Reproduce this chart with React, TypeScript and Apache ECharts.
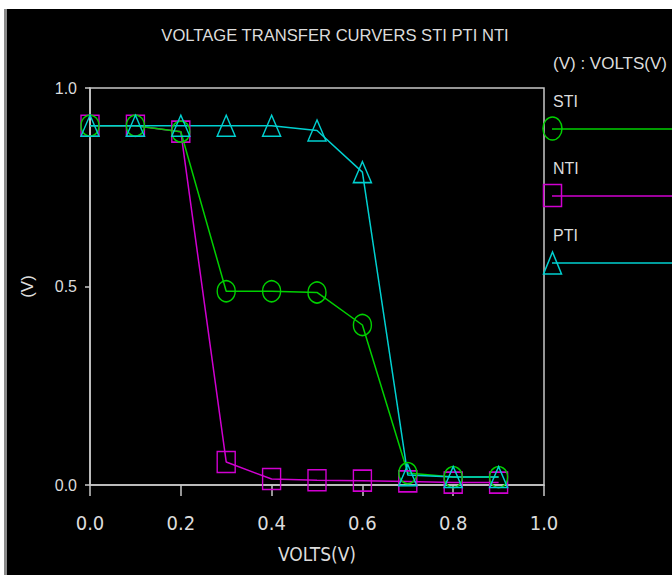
import React, { useEffect, useRef } from "react";
import * as echarts from "echarts";

const xValues = [0, 0.1, 0.2, 0.3, 0.4, 0.5, 0.6, 0.7, 0.8, 0.9];
const stiValues = [0.905, 0.905, 0.89, 0.488, 0.488, 0.485, 0.403, 0.03, 0.02, 0.02];
const ntiValues = [0.905, 0.905, 0.89, 0.058, 0.015, 0.012, 0.011, 0.009, 0.006, 0.006];
const ptiValues = [0.905, 0.905, 0.905, 0.905, 0.905, 0.893, 0.788, 0.025, 0.02, 0.02];
const xTicks = [0, 0.2, 0.4, 0.6, 0.8, 1.0];
const yTicks = [0, 0.5, 1.0];

const GREEN = "#00d000";
const MAGENTA = "#d000d0";
const CYAN = "#00d0d0";
const TEXT = "#dcdcdc";
const FRAME = "#c8c8c8";
const SANS = "'Liberation Sans', Arial, sans-serif";
const NARROW = "'Liberation Sans Narrow', 'DejaVu Sans Condensed', 'Liberation Sans', sans-serif";

function pairs(ys: number[]) {
  return xValues.map((x, i) => [x, ys[i]]);
}

export default function App() {
  const ref = useRef<HTMLDivElement>(null);
  useEffect(() => {
    if (!ref.current) return;
    const chart = echarts.init(ref.current, null, { renderer: "svg" });
    const mkSeries = (name: string, ys: number[], color: string, symbol: string) => ({
      name,
      type: "line",
      data: pairs(ys),
      symbol,
      symbolSize: [18, 21],
      showSymbol: true,
      lineStyle: { color, width: 1.5 },
      itemStyle: { color: "rgba(0,0,0,0)", borderColor: color, borderWidth: 1.5 },
      emphasis: { disabled: true },
    });
    chart.setOption({
      animation: false,
      backgroundColor: "#000000",
      grid: {
        left: 90,
        top: 88,
        right: 128,
        bottom: 90,
        show: true,
        borderColor: FRAME,
        borderWidth: 1.5,
        backgroundColor: "transparent",
      },
      xAxis: {
        type: "value",
        min: 0,
        max: 1,
        interval: 0.2,
        offset: 7,
        name: "VOLTS(V)",
        nameLocation: "middle",
        nameGap: 52,
        nameTextStyle: { color: TEXT, fontFamily: NARROW, fontSize: 19 },
        axisLine: { show: true, lineStyle: { color: FRAME, width: 1.5 } },
        axisTick: { show: true, inside: false, length: 11, lineStyle: { color: FRAME, width: 1.5 } },
        axisLabel: {
          color: TEXT,
          fontFamily: NARROW,
          fontSize: 20,
          margin: 21,
          formatter: (v: number) => (xTicks.includes(Math.round(v * 10) / 10) ? v.toFixed(1) : ""),
        },
        splitLine: { show: false },
      },
      yAxis: {
        type: "value",
        min: 0,
        max: 1,
        interval: 0.5,
        offset: 4,
        name: "(V)",
        nameLocation: "middle",
        nameGap: 50,
        nameRotate: 90,
        nameTextStyle: { color: TEXT, fontFamily: SANS, fontSize: 17 },
        axisLine: { show: true, lineStyle: { color: FRAME, width: 1.5 } },
        axisTick: { show: true, inside: false, length: 5, lineStyle: { color: FRAME, width: 1.5 } },
        axisLabel: {
          color: TEXT,
          fontFamily: SANS,
          fontSize: 16,
          margin: 9,
          formatter: (v: number) => (yTicks.includes(Math.round(v * 10) / 10) ? v.toFixed(1) : ""),
        },
        splitLine: { show: false },
      },
      graphic: [
        { type: "rect", shape: { x: 0, y: 0, width: 672, height: 9 }, style: { fill: "#ffffff" }, silent: true },
        { type: "rect", shape: { x: 0, y: 0, width: 4, height: 575 }, style: { fill: "#ffffff" }, silent: true },
        { type: "rect", shape: { x: 4, y: 9, width: 3, height: 566 }, style: { fill: "#8a8a8a" }, silent: true },
        {
          type: "text",
          x: 335,
          y: 35,
          style: { text: "VOLTAGE TRANSFER CURVERS STI PTI NTI", fill: TEXT, font: `16.6px ${SANS}`, align: "center", verticalAlign: "middle" },
        },
        {
          type: "text",
          x: 553,
          y: 63,
          style: { text: "(V) : VOLTS(V)", fill: TEXT, font: `17px ${SANS}`, align: "left", verticalAlign: "middle" },
        },
        { type: "text", x: 553, y: 101, style: { text: "STI", fill: TEXT, font: `16px ${SANS}`, align: "left", verticalAlign: "middle" } },
        { type: "text", x: 553, y: 168, style: { text: "NTI", fill: TEXT, font: `16px ${SANS}`, align: "left", verticalAlign: "middle" } },
        { type: "text", x: 553, y: 235, style: { text: "PTI", fill: TEXT, font: `16px ${SANS}`, align: "left", verticalAlign: "middle" } },
        { type: "line", shape: { x1: 552, y1: 129, x2: 672, y2: 129 }, style: { stroke: GREEN, lineWidth: 1.5 } },
        { type: "ellipse", shape: { cx: 552.5, cy: 128.5, rx: 9.5, ry: 11.5 }, style: { stroke: GREEN, fill: "transparent", lineWidth: 1.5 } },
        { type: "line", shape: { x1: 552, y1: 196, x2: 672, y2: 196 }, style: { stroke: MAGENTA, lineWidth: 1.5 } },
        { type: "rect", shape: { x: 543.5, y: 184.5, width: 18, height: 22 }, style: { stroke: MAGENTA, fill: "transparent", lineWidth: 1.5 } },
        { type: "line", shape: { x1: 552, y1: 263, x2: 672, y2: 263 }, style: { stroke: CYAN, lineWidth: 1.5 } },
        {
          type: "polygon",
          shape: { points: [[552.5, 252], [543.5, 274], [561.5, 274]] },
          style: { stroke: CYAN, fill: "transparent", lineWidth: 1.5 },
        },
      ],
      series: [
        mkSeries("NTI", ntiValues, MAGENTA, "rect"),
        mkSeries("STI", stiValues, GREEN, "circle"),
        mkSeries("PTI", ptiValues, CYAN, "triangle"),
      ],
    });
    return () => chart.dispose();
  }, []);
  return (
    <div
      ref={ref}
      style={{ position: "absolute", left: 0, top: 0, width: 672, height: 575 }}
    />
  );
}
